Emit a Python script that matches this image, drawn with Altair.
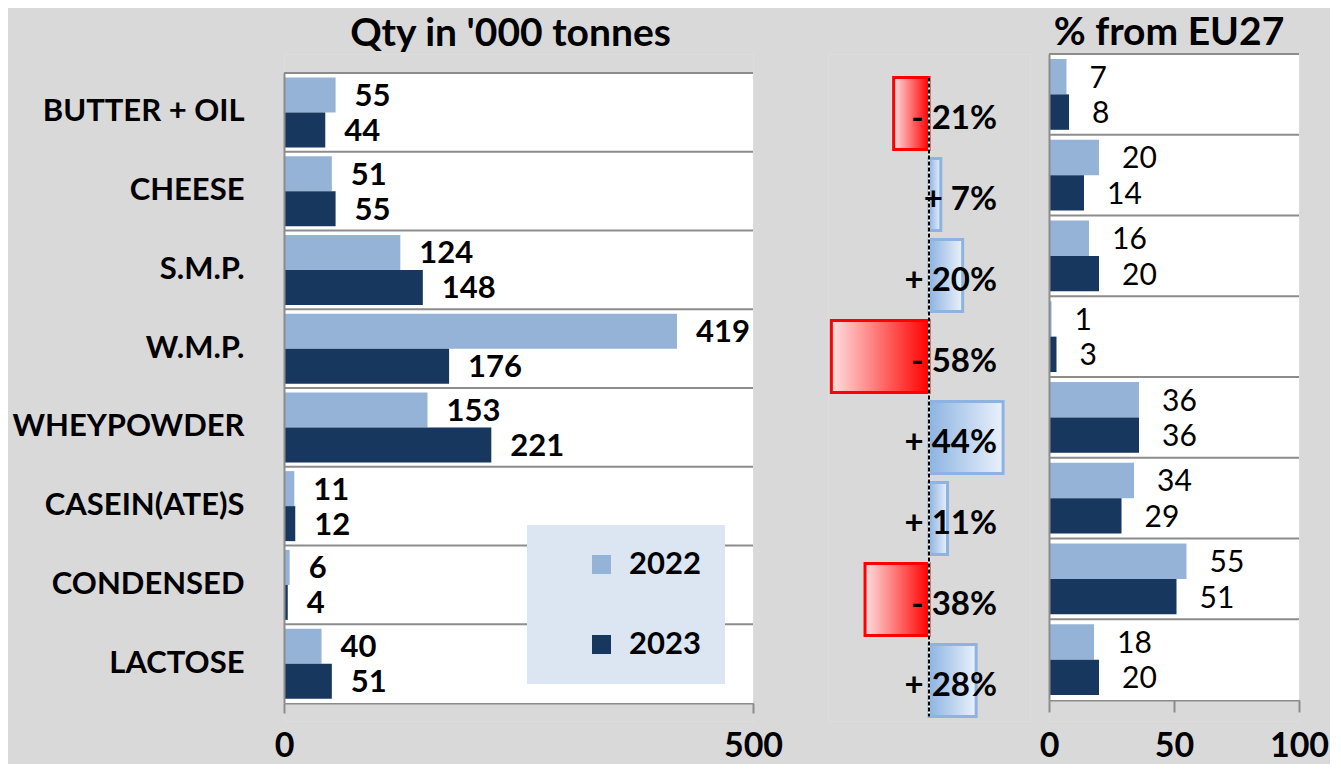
import altair as alt
import pandas as pd

categories = ["BUTTER + OIL", "CHEESE", "S.M.P.", "W.M.P.", "WHEYPOWDER",
              "CASEIN(ATE)S", "CONDENSED", "LACTOSE"]
years = ["2022", "2023"]
qty_2022 = [55, 51, 124, 419, 153, 11, 6, 40]
qty_2023 = [44, 55, 148, 176, 221, 12, 4, 51]
pct_change = [-21, 7, 20, -58, 44, 11, -38, 28]
share_2022 = [7, 20, 16, 1, 36, 34, 55, 18]
share_2023 = [8, 14, 20, 3, 36, 29, 51, 20]
qty_ticks = [0, 500]
share_ticks = [0, 50, 100]

FONT = "Lato"
GRID = "#8c8c8c"
LIGHT = "#95b3d7"
DARK = "#17375e"


def long(a, b):
    rows = []
    for c, v1, v2 in zip(categories, a, b):
        rows.append({"cat": c, "year": years[0], "v": v1})
        rows.append({"cat": c, "year": years[1], "v": v2})
    return pd.DataFrame(rows)


qty_df = long(qty_2022, qty_2023)
share_df = long(share_2022, share_2023)
frame_df = pd.DataFrame({"cat": categories, "lo": 0,
                         "hi_q": qty_ticks[-1], "hi_s": share_ticks[-1]})
pct_df = pd.DataFrame({
    "cat": categories,
    "pct": pct_change,
    "label": [("- " if p < 0 else "+ ") + f"{abs(p)}%" for p in pct_change],
})
zero_df = pd.DataFrame({"z": [0]})

color = alt.Color(
    "year:N",
    scale=alt.Scale(domain=years, range=[LIGHT, DARK]),
    legend=alt.Legend(
        title=None, orient="none", legendX=243, legendY=471,
        direction="vertical", symbolType="square", symbolSize=361,
        symbolStrokeWidth=0, labelFont=FONT, labelFontSize=31,
        labelFontWeight="bold", labelColor="black", rowPadding=48,
        labelOffset=12, symbolOffset=35, padding=24, fillColor="#dce6f2",
    ),
)

H = 667
W_L, W_M, W_R = 469, 202, 250
TITLE_OFFSET = -31
AX_FONT = 34

# ---------------- left panel ----------------
yL = alt.Scale(domain=categories, range=[19, 649], paddingInner=0, paddingOuter=0)
xL = alt.Scale(domain=[qty_ticks[0], qty_ticks[-1]], nice=False)
offL = alt.Scale(domain=years, paddingInner=0, paddingOuter=0.125)

left_bg = alt.Chart(frame_df).mark_rect(color="white").encode(
    y=alt.Y("cat:N", scale=yL, title=None,
            axis=alt.Axis(labelFont=FONT, labelFontSize=31, labelFontWeight="bold",
                          labelColor="black", ticks=False, domainColor=GRID,
                          domainWidth=2, labelPadding=40, grid=False, labelLimit=400)),
    x=alt.X("lo:Q", scale=xL, title=None,
            axis=alt.Axis(values=qty_ticks, grid=False, offset=-18, tickColor=GRID,
                          tickWidth=2, tickSize=10, domainColor=GRID, domainWidth=2,
                          labelFont=FONT, labelFontSize=AX_FONT, labelFontWeight="bold",
                          labelColor="black", labelPadding=16, labelFlush=False)),
    x2="hi_q:Q",
)
left_grid = alt.Chart(frame_df).mark_rule(color=GRID, strokeWidth=2).encode(
    y=alt.Y("cat:N", bandPosition=0), x="lo:Q", x2="hi_q:Q")
left_bars = alt.Chart(qty_df).mark_bar().encode(
    y="cat:N", yOffset=alt.YOffset("year:N", scale=offL), x="v:Q", color=color)
left_text = alt.Chart(qty_df).mark_text(
    align="left", baseline="middle", dx=19, dy=2, font=FONT, fontSize=31,
    fontWeight="bold", color="black").encode(
    y="cat:N", yOffset="year:N", x="v:Q", text="v:Q")

left = alt.layer(left_bg, left_grid, left_bars, left_text).properties(
    width=W_L, height=H,
    title=alt.TitleParams("Qty in '000 tonnes", font=FONT, fontSize=39,
                          fontWeight="bold", color="black", anchor="middle",
                          frame="group", offset=TITLE_OFFSET, baseline="alphabetic",
                          dx=-8))

# ---------------- middle panel ----------------
yM = alt.Scale(domain=categories, range=[19, 667], paddingInner=0.111, paddingOuter=0.0555)
xM = alt.Scale(domain=[-60, 60], nice=False)
red_grad = {"gradient": "linear", "x1": 0, "y1": 0, "x2": 1, "y2": 0,
            "stops": [{"offset": 0, "color": "#ffe0e0"}, {"offset": 1, "color": "#ff0000"}]}
blue_grad = {"gradient": "linear", "x1": 0, "y1": 0, "x2": 1, "y2": 0,
             "stops": [{"offset": 0, "color": "#8db4e2"}, {"offset": 1, "color": "#eaf1fb"}]}

neg = alt.Chart(pct_df).transform_filter("datum.pct < 0").mark_bar(
    fill=red_grad, stroke="#ff0000", strokeWidth=3).encode(
    y=alt.Y("cat:N", scale=yM, axis=None),
    x=alt.X("pct:Q", scale=xM, axis=None))
pos = alt.Chart(pct_df).transform_filter("datum.pct > 0").mark_bar(
    fill=blue_grad, stroke="#8db3e2", strokeWidth=3).encode(
    y="cat:N", x="pct:Q")
zero_white = alt.Chart(zero_df).mark_rule(color="white", strokeWidth=2).encode(
    x="z:Q",
    y=alt.YDatum(categories[0], bandPosition=0),
    y2=alt.Y2Datum(categories[-1], bandPosition=1))
zero_dash = alt.Chart(zero_df).mark_rule(color="black", strokeWidth=2,
                                         strokeDash=[4, 2]).encode(
    x="z:Q",
    y=alt.YDatum(categories[0], bandPosition=0),
    y2=alt.Y2Datum(categories[-1], bandPosition=1))
pct_text = alt.Chart(pct_df).mark_text(
    align="right", baseline="middle", dx=68, dy=5, font=FONT, fontSize=33,
    fontWeight="bold", color="black").encode(
    y="cat:N", x=alt.datum(0), text="label:N")

mid = alt.layer(neg, pos, zero_white, zero_dash, pct_text).properties(width=W_M, height=H)

# ---------------- right panel ----------------
yR = alt.Scale(domain=categories, range=[0, 646], paddingInner=0, paddingOuter=0)
xR = alt.Scale(domain=[share_ticks[0], share_ticks[-1]], nice=False)
offR = alt.Scale(domain=years, paddingInner=0, paddingOuter=0.14)

right_bg = alt.Chart(frame_df).mark_rect(color="white").encode(
    y=alt.Y("cat:N", scale=yR, title=None,
            axis=alt.Axis(labels=False, ticks=False, domainColor=GRID,
                          domainWidth=2, grid=False)),
    x=alt.X("lo:Q", scale=xR, title=None,
            axis=alt.Axis(values=share_ticks, grid=False, offset=-21, tickColor=GRID,
                          tickWidth=2, tickSize=12, domainColor=GRID, domainWidth=2,
                          labelFont=FONT, labelFontSize=AX_FONT, labelFontWeight="bold",
                          labelColor="black", labelPadding=17, labelFlush=False)),
    x2="hi_s:Q",
)
right_grid = alt.Chart(frame_df).mark_rule(color=GRID, strokeWidth=2).encode(
    y=alt.Y("cat:N", bandPosition=0), x="lo:Q", x2="hi_s:Q")
right_bars = alt.Chart(share_df).mark_bar().encode(
    y="cat:N", yOffset=alt.YOffset("year:N", scale=offR), x="v:Q",
    color=alt.Color("year:N", legend=None))
right_text = alt.Chart(share_df).mark_text(
    align="left", baseline="middle", dx=23, dy=2, font=FONT, fontSize=30,
    color="black").encode(
    y="cat:N", yOffset="year:N", x="v:Q", text="v:Q")

right = alt.layer(right_bg, right_grid, right_bars, right_text).properties(
    width=W_R, height=H,
    title=alt.TitleParams("% from EU27", font=FONT, fontSize=39,
                          fontWeight="bold", color="black", anchor="middle",
                          frame="group", offset=TITLE_OFFSET, baseline="alphabetic",
                          dx=-5))

inner = alt.hconcat(mid, right, spacing=19, bounds="flush").resolve_scale(
    x="independent", y="independent", yOffset="independent")
chart = alt.hconcat(left, inner, spacing=75, bounds="flush").resolve_scale(
    x="independent", y="independent", yOffset="independent"
).properties(
    background="#d9d9d9",
    padding={"left": 3, "top": 5, "right": 0, "bottom": 0},
).configure_view(strokeWidth=0).configure(font=FONT)

chart.save("out.html", embed_options={"renderer": "svg", "actions": False})
